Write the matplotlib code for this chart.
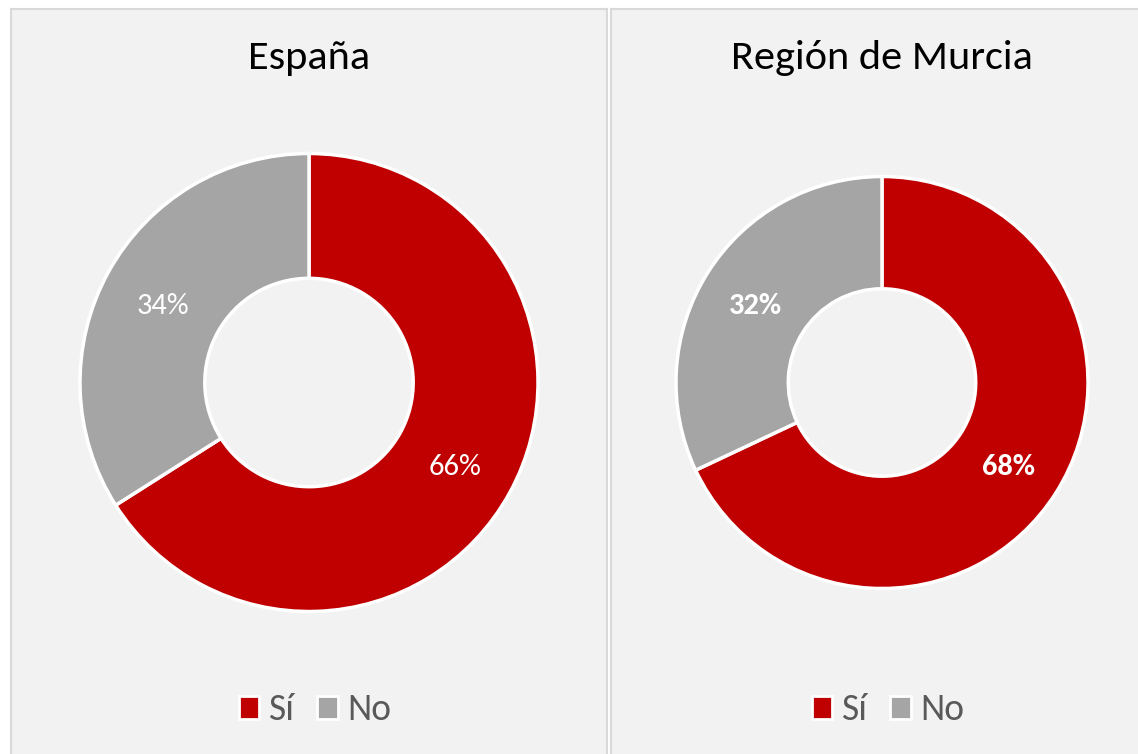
import numpy as np
import matplotlib.pyplot as plt
from matplotlib.patches import Patch

W, H = 1138, 754

categories = ["Sí", "No"]
titles = ["España", "Región de Murcia"]
values_espana = [66, 34]
values_murcia = [68, 32]
colors = ["#c00000", "#a5a5a5"]

plt.rcParams['font.family'] = ['Carlito', 'Open Sans', 'DejaVu Sans']

# panel boxes in image pixels: left, top, right, bottom
panels = [(11, 9, 607, 770), (611, 9, 1150, 770)]
centers = [(309, 382.5), (882, 382.5)]
radii = [229, 206]
bold_labels = [False, True]
values = [values_espana, values_murcia]

fig = plt.figure(figsize=(W / 100, H / 100), dpi=100)
fig.patch.set_facecolor("white")

for i in range(2):
    l, t, r, b = panels[i]
    ax = fig.add_axes([l / W, 1 - b / H, (r - l) / W, (b - t) / H])
    ax.set_facecolor("#f2f2f2")
    cx, cy = centers[i]
    cy = H - cy
    rad = radii[i]
    wedges, _, autotexts = ax.pie(
        values[i], colors=colors, startangle=90, counterclock=False,
        center=(cx, cy), radius=rad, autopct="%d%%", pctdistance=0.73,
        wedgeprops=dict(width=rad * 0.545, edgecolor="white", linewidth=2.5),
        textprops=dict(color="white", fontsize=22,
                       fontweight="bold" if bold_labels[i] else "normal"),
        frame=True)
    for tx in autotexts:
        x, y = tx.get_position()
        tx.set_position((x, y - 4))
    ax.set_xlim(l, r)
    ax.set_ylim(H - b, H - t)
    ax.set_xticks([])
    ax.set_yticks([])
    for s in ax.spines.values():
        s.set_color("#d9d9d9")
        s.set_linewidth(1.5)
    ax.text(cx, H - 58, titles[i], ha="center", va="center",
            fontsize=30.5, color="black")
    handles = [Patch(facecolor=c, edgecolor="white", linewidth=2) for c in colors]
    ax.legend(handles, categories, loc="center", ncol=2, frameon=False,
              bbox_to_anchor=(cx + 6, H - 710), bbox_transform=ax.transData,
              fontsize=27, labelcolor="#595959", handlelength=0.55,
              handleheight=0.55, handletextpad=0.25, columnspacing=0.6)

fig.savefig("out.png", dpi=100)
